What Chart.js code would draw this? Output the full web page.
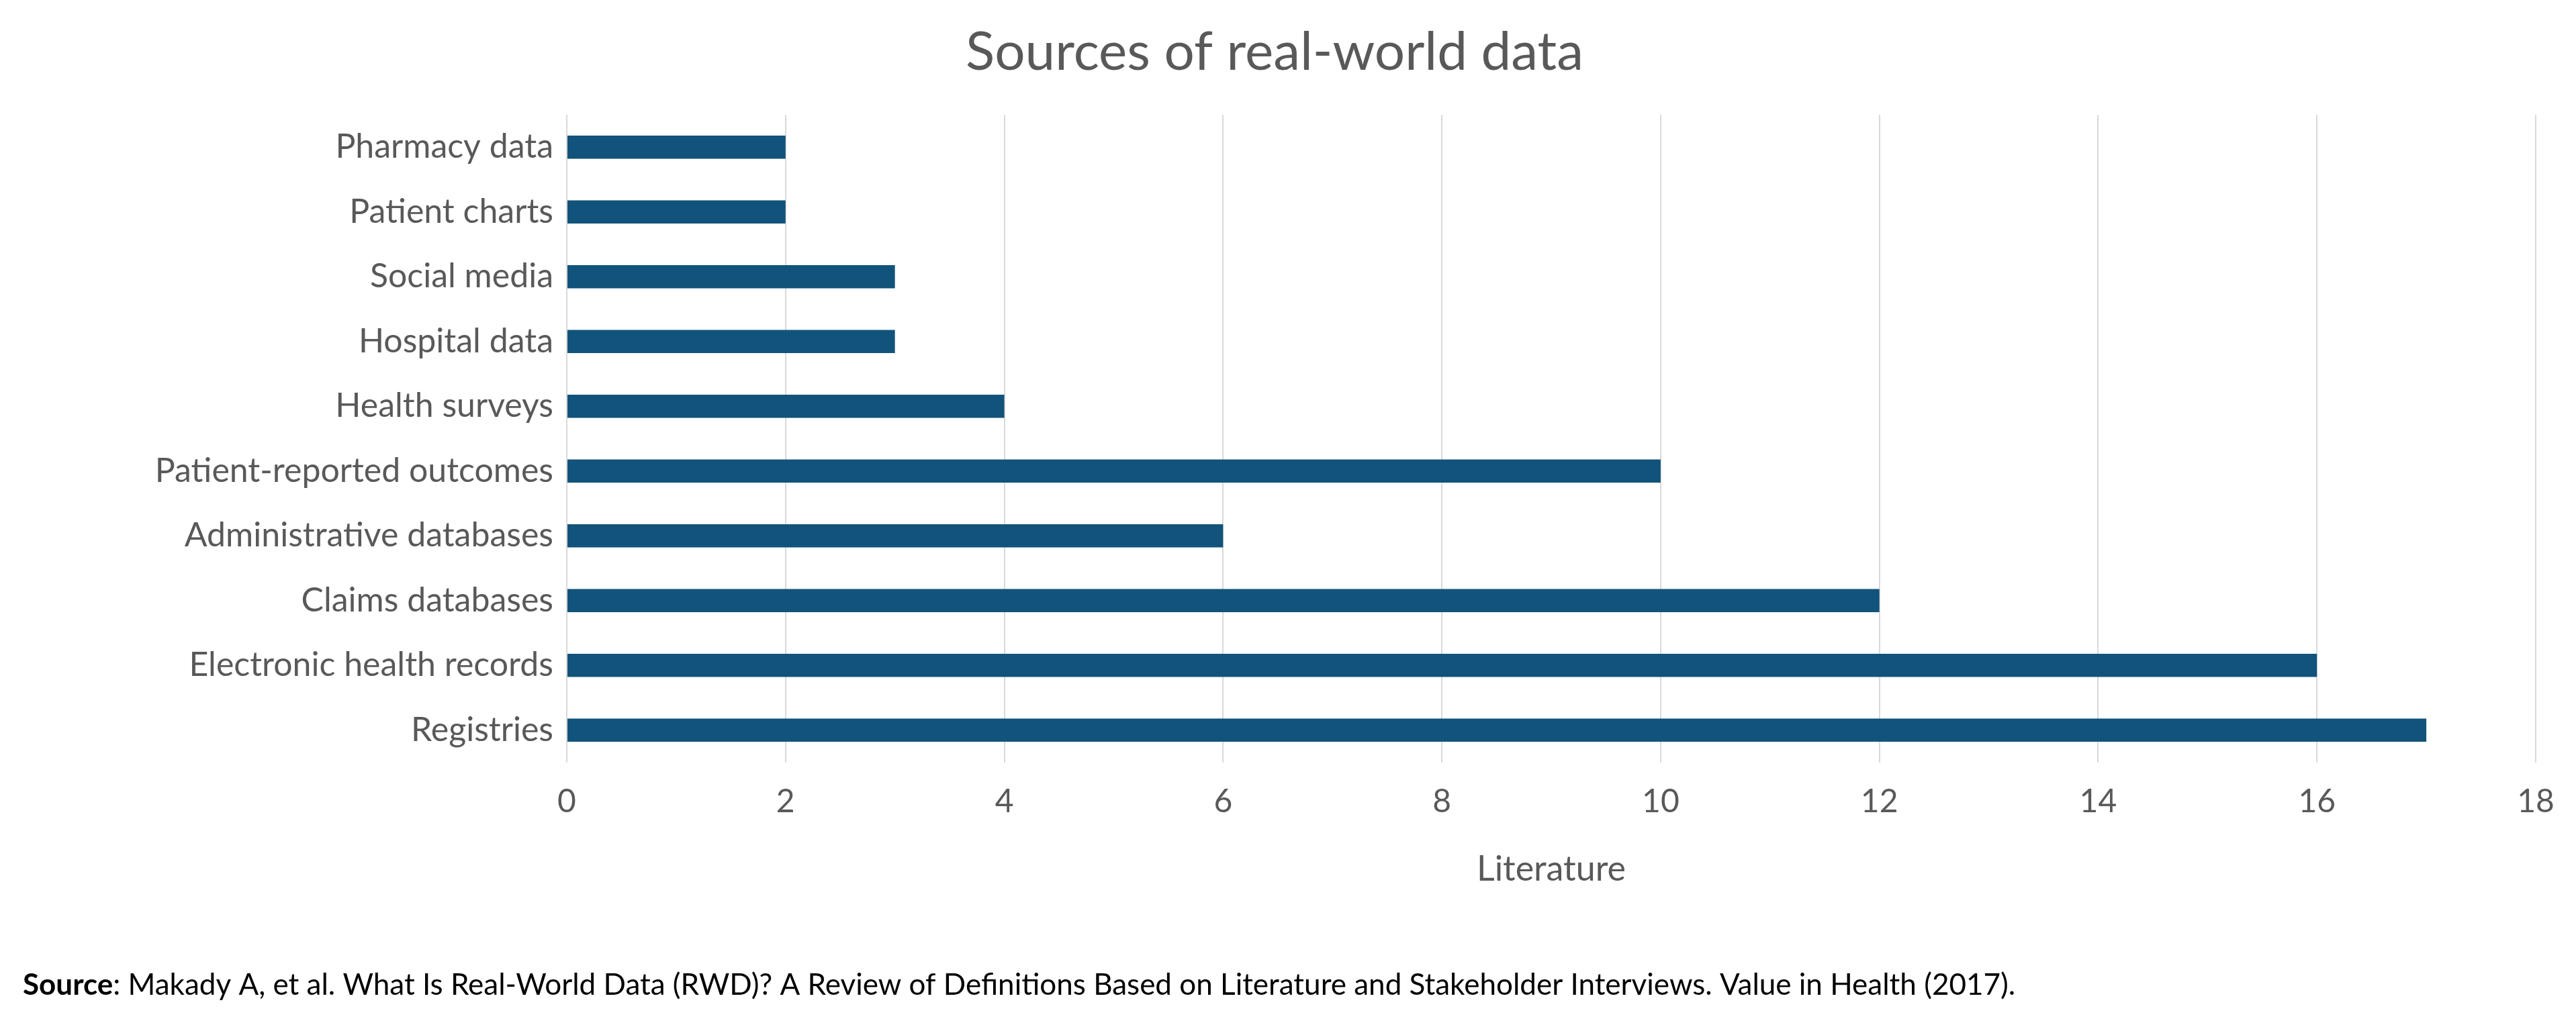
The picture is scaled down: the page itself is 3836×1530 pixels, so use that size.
<!DOCTYPE html>
<html>
<head>
<meta charset="utf-8">
<script src="https://cdn.jsdelivr.net/npm/chart.js@4/dist/chart.umd.min.js"></script>
<style>
  html, body { margin: 0; padding: 0; background: #fff; }
  #wrap { width: 3836px; height: 1530px; }
</style>
</head>
<body>
<div id="wrap"><canvas id="grafico"></canvas></div>
<script>
const categorias = ['Pharmacy data', 'Patient charts', 'Social media', 'Hospital data', 'Health surveys',
    'Patient-reported outcomes', 'Administrative databases', 'Claims databases', 'Electronic health records', 'Registries'];
const literatura = [2, 2, 3, 3, 4, 10, 6, 12, 16, 17];

const fonte = "Lato, 'Open Sans', sans-serif";

const sourcePlugin = {
    id: 'sourceText',
    afterDraw(chart) {
        const ctx = chart.ctx;
        ctx.save();
        ctx.textBaseline = 'middle';
        ctx.fillStyle = '#000';
        ctx.font = 'bold 44px ' + fonte;
        ctx.fillText('Source', 34, 1468);
        const w = ctx.measureText('Source').width;
        ctx.font = '44px ' + fonte;
        ctx.fillText(': Makady A, et al. What Is Real-World Data (RWD)? A Review of Definitions Based on Literature and Stakeholder Interviews. Value in Health (2017).', 34 + w, 1468);
        ctx.restore();
    }
};

const ctx = document.getElementById('grafico').getContext('2d');
new Chart(ctx, {
    type: 'bar',
    data: {
        labels: categorias,
        datasets: [{
            label: 'Literature',
            data: literatura,
            backgroundColor: '#11537A',
            barPercentage: 0.36,
            categoryPercentage: 1.0
        }]
    },
    options: {
        indexAxis: 'y',
        responsive: true,
        maintainAspectRatio: false,
        animation: false,
        layout: { padding: { top: 30, right: 60, bottom: 200, left: 20 } },
        plugins: {
            legend: { display: false },
            tooltip: { enabled: false },
            title: {
                display: true,
                text: 'Sources of real-world data',
                color: '#595959',
                font: { family: fonte, size: 80, weight: 'normal' },
                padding: { top: 0, bottom: 45 }
            }
        },
        scales: {
            x: {
                min: 0, max: 18,
                ticks: { stepSize: 2, color: '#595959', font: { family: fonte, size: 48 }, padding: 30 },
                grid: { color: '#D9D9D9', lineWidth: 2, drawTicks: false },
                border: { display: false },
                title: { display: true, text: 'Literature', color: '#595959', font: { family: fonte, size: 52 }, padding: { top: 10 } }
            },
            y: {
                afterFit(scale) { scale.width = 824; },
                ticks: { color: '#595959', font: { family: fonte, size: 50 }, padding: 20 },
                grid: { display: false, drawTicks: false },
                border: { display: false }
            }
        }
    },
    plugins: [sourcePlugin]
});
</script>
</body>
</html>
